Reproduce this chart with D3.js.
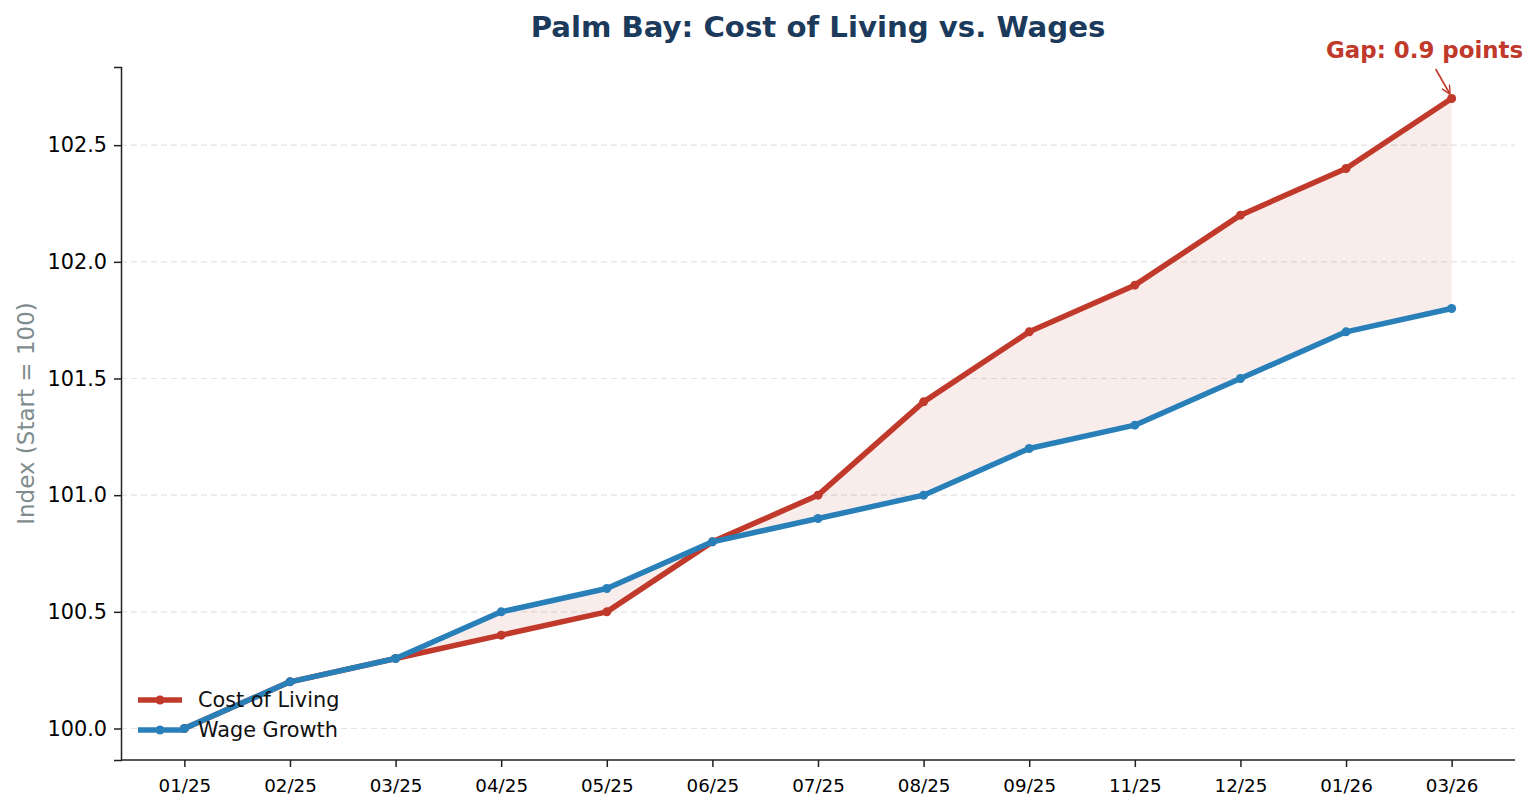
<!DOCTYPE html>
<html lang='en'>
<head>
	<meta charset='UTF-8'/>
	<title>Palm Bay: Cost of Living vs. Wages</title>
	<script src='https://cdnjs.cloudflare.com/ajax/libs/d3/7.8.5/d3.min.js'></script>
	<style>
		body {margin: 0; background: #fff;}
		svg {display: block; font-family: 'DejaVu Sans', sans-serif;}
	</style>
</head>
<body>
	<div class='graph'></div>
	<script>
		// data
		const months = ['01/25', '02/25', '03/25', '04/25', '05/25', '06/25', '07/25',
			'08/25', '09/25', '11/25', '12/25', '01/26', '03/26'];
		const costOfLiving = [100.0, 100.2, 100.3, 100.4, 100.5, 100.8, 101.0,
			101.4, 101.7, 101.9, 102.2, 102.4, 102.7];
		const wageGrowth = [100.0, 100.2, 100.3, 100.5, 100.6, 100.8, 100.9,
			101.0, 101.2, 101.3, 101.5, 101.7, 101.8];
		const yTicks = [100.0, 100.5, 101.0, 101.5, 102.0, 102.5];

		const width = 1538, height = 809;
		const margin = {top: 67, right: 23, bottom: 49, left: 121};
		const RED = '#c0392b', BLUE = '#2980b9';

		const svg = d3.select('.graph')
			.append('svg')
			.attr('width', width)
			.attr('height', height);

		const x = d3.scalePoint()
			.domain(months)
			.range([margin.left, width - margin.right])
			.padding(0.6);

		const y = d3.scaleLinear()
			.domain([99.865, 102.835])
			.range([height - margin.bottom, margin.top]);

		// grid
		svg.append('g')
			.selectAll('line')
			.data(yTicks)
			.join('line')
			.attr('x1', margin.left)
			.attr('x2', width - margin.right)
			.attr('y1', d => y(d))
			.attr('y2', d => y(d))
			.style('stroke', '#e3e3e3')
			.style('stroke-width', 1.2)
			.style('stroke-dasharray', '6,4');

		// fill between
		const rows = months.map((m, i) => ({m: m, c: costOfLiving[i], w: wageGrowth[i]}));
		svg.append('path')
			.datum(rows)
			.attr('d', d3.area().x(d => x(d.m)).y0(d => y(d.w)).y1(d => y(d.c)))
			.style('fill', RED)
			.style('fill-opacity', 0.09);

		// axes
		const xAxis = svg.append('g')
			.attr('transform', 'translate(0,' + (height - margin.bottom) + ')')
			.call(d3.axisBottom(x).tickSize(7).tickPadding(12));
		xAxis.select('.domain')
			.attr('d', 'M' + margin.left + ',0H' + (width - margin.right));
		xAxis.selectAll('text').style('font-size', '18.3px').style('font-family', 'DejaVu Sans').style('fill', '#000');

		const yAxis = svg.append('g')
			.attr('transform', 'translate(' + margin.left + ',0)')
			.call(d3.axisLeft(y).tickValues(yTicks).tickFormat(d3.format('.1f')).tickSize(7).tickPadding(7));
		yAxis.selectAll('text').style('font-size', '20.8px').style('font-family', 'DejaVu Sans').style('fill', '#000');
		svg.selectAll('.domain, .tick line').style('stroke', '#222').style('stroke-width', 1.5);

		// lines
		const series = [
			{name: 'Cost of Living', values: costOfLiving, color: RED},
			{name: 'Wage Growth', values: wageGrowth, color: BLUE}
		];
		series.forEach(s => {
			svg.append('path')
				.datum(s.values)
				.attr('d', d3.line().x((d, i) => x(months[i])).y(d => y(d)))
				.style('fill', 'none')
				.style('stroke', s.color)
				.style('stroke-width', 5.5)
				.style('stroke-linejoin', 'round');
			svg.append('g')
				.selectAll('circle')
				.data(s.values)
				.join('circle')
				.attr('cx', (d, i) => x(months[i]))
				.attr('cy', d => y(d))
				.attr('r', 4.5)
				.style('fill', s.color);
		});

		// title
		svg.append('text')
			.text('Palm Bay: Cost of Living vs. Wages')
			.attr('x', (margin.left + width - margin.right) / 2)
			.attr('y', 37)
			.attr('text-anchor', 'middle')
			.style('font-size', '29.2px')
			.style('font-weight', 'bold')
			.style('fill', '#1b3a5c');

		// y label
		svg.append('text')
			.text('Index (Start = 100)')
			.attr('transform', 'rotate(-90)')
			.attr('x', -(margin.top + height - margin.bottom) / 2)
			.attr('y', 34)
			.attr('text-anchor', 'middle')
			.style('font-size', '23px')
			.style('fill', '#7f8c8d');

		// annotation
		const last = months.length - 1;
		const gap = costOfLiving[last] - wageGrowth[last];
		const ax = x(months[last]), ay = y(costOfLiving[last]);
		svg.append('text')
			.text('Gap: ' + gap.toFixed(1) + ' points')
			.attr('x', ax - 27)
			.attr('y', 58)
			.attr('text-anchor', 'middle')
			.style('font-size', '22.9px')
			.style('font-weight', 'bold')
			.style('fill', RED);
		svg.append('defs').append('marker')
			.attr('id', 'arrow')
			.attr('viewBox', '0 0 10 10')
			.attr('refX', 9).attr('refY', 5)
			.attr('markerWidth', 9).attr('markerHeight', 9)
			.attr('markerUnits', 'userSpaceOnUse')
			.attr('orient', 'auto')
			.append('path')
			.attr('d', 'M0,0L10,5L0,10')
			.style('fill', 'none')
			.style('stroke', RED)
			.style('stroke-width', 1.6);
		svg.append('line')
			.attr('x1', ax - 16).attr('y1', 69)
			.attr('x2', ax - 2).attr('y2', ay - 5)
			.attr('marker-end', 'url(#arrow)')
			.style('stroke', RED)
			.style('stroke-width', 1.6);

		// legend
		const legend = svg.append('g')
			.attr('transform', 'translate(138, 700)');
		series.forEach((s, i) => {
			const row = legend.append('g').attr('transform', 'translate(0,' + (i * 30) + ')');
			row.append('line')
				.attr('x1', 0).attr('x2', 44)
				.style('stroke', s.color)
				.style('stroke-width', 5.5);
			row.append('circle')
				.attr('cx', 22).attr('r', 4.5)
				.style('fill', s.color);
			row.append('text')
				.text(s.name)
				.attr('x', 60)
				.attr('dy', '0.35em')
				.style('font-size', '20.8px')
				.style('fill', '#111');
		});
	</script>
</body>
</html>
